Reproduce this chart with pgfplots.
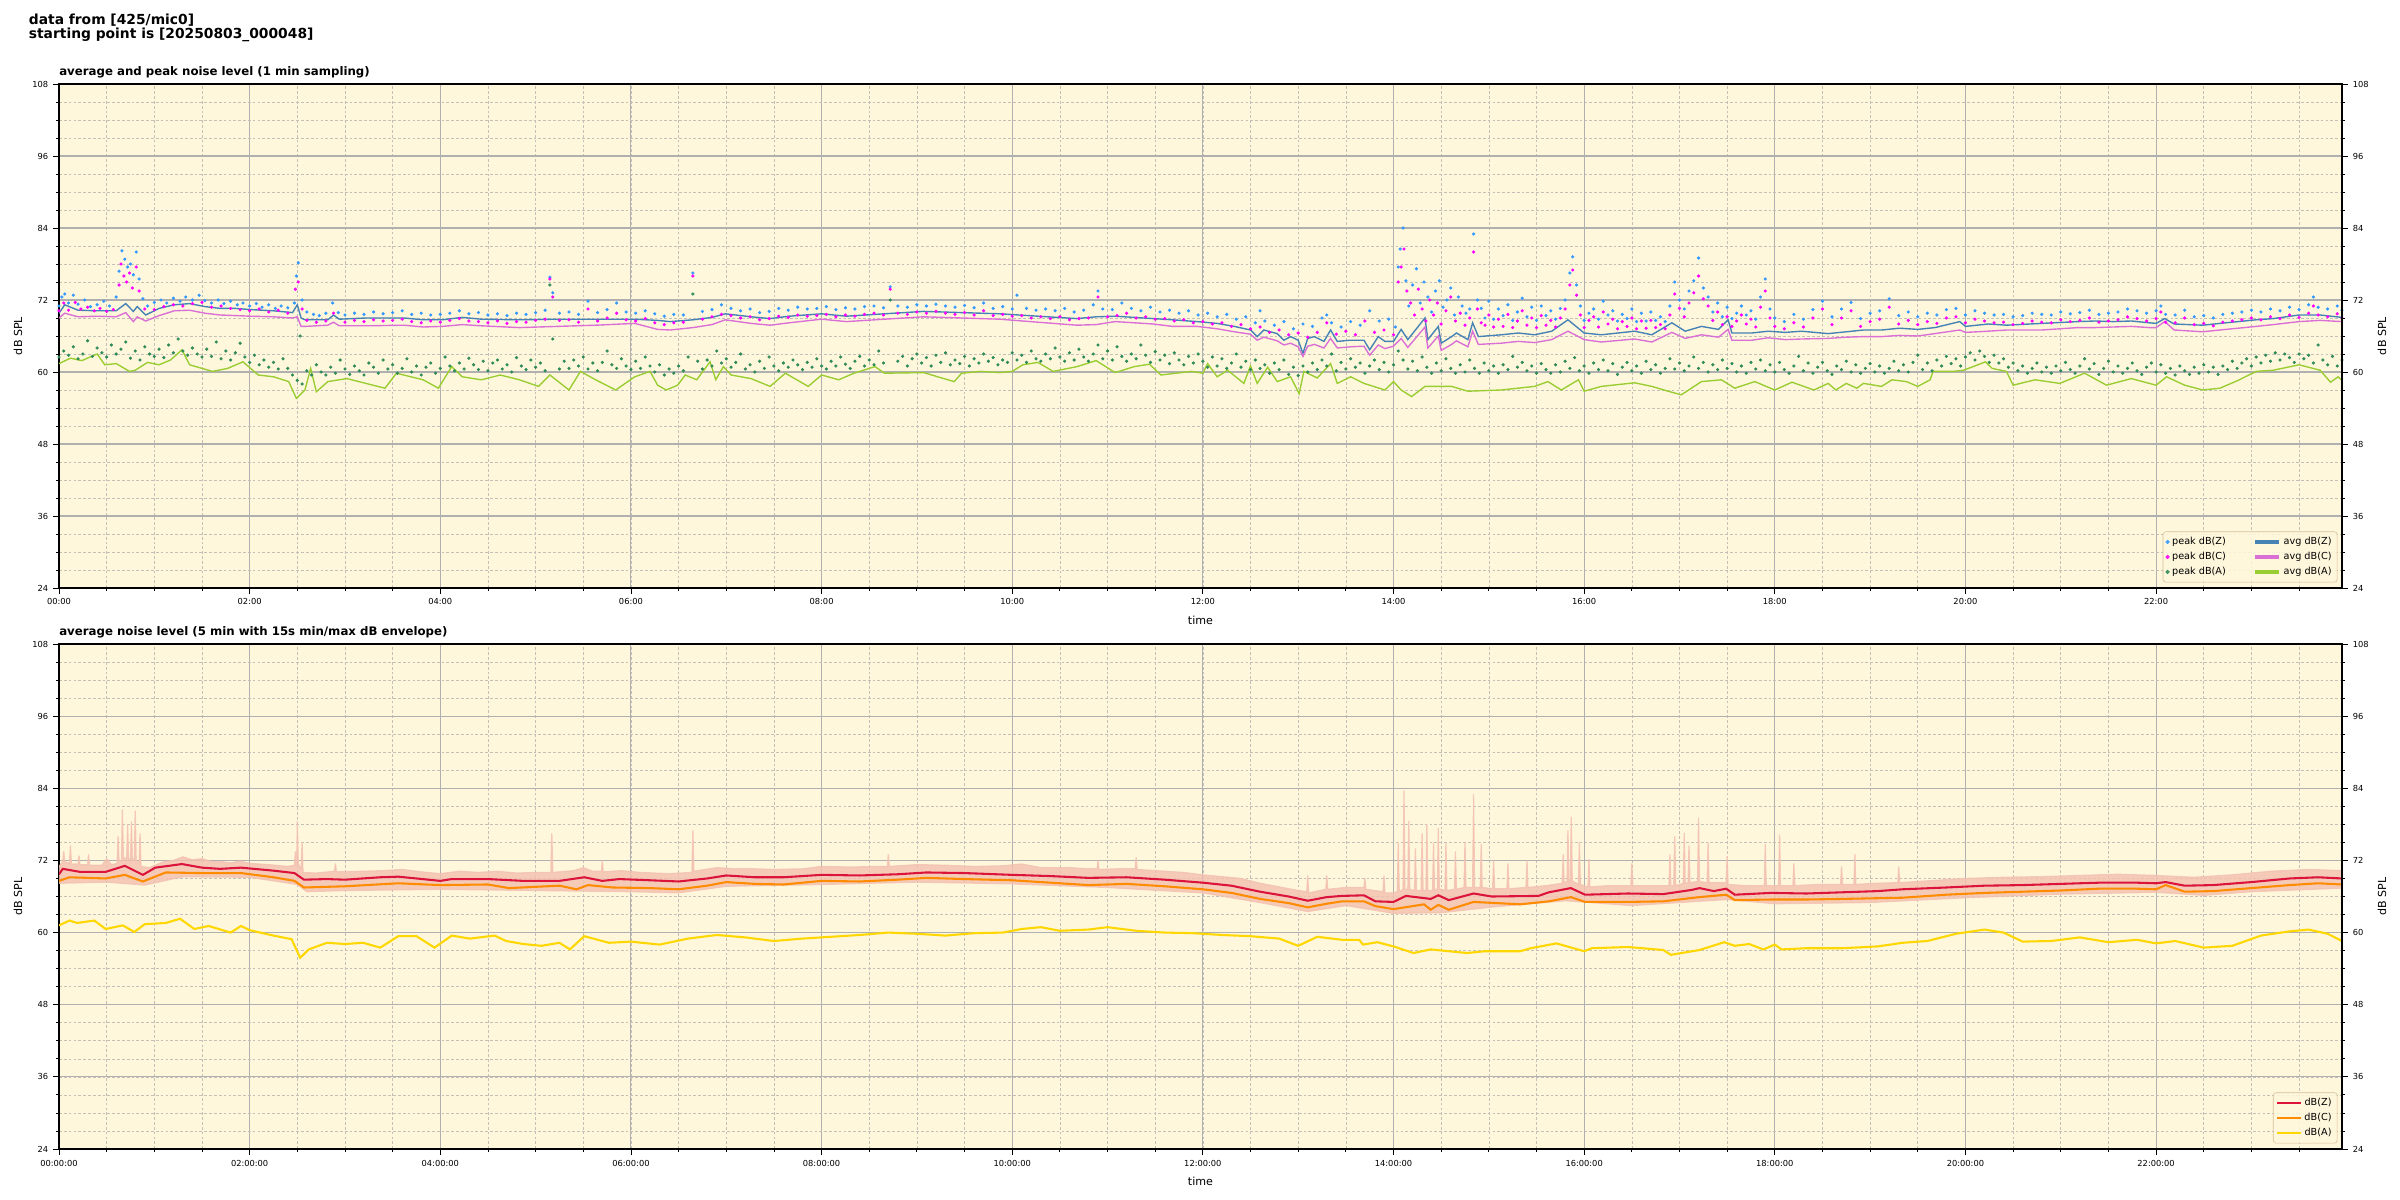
\documentclass[border=0pt]{standalone}
\usepackage{pgfplots}
\pgfplotsset{compat=1.18}
\usepackage{fontspec}
\setmainfont{DejaVu Sans}

\definecolor{bgc}{RGB}{255,247,220}
\definecolor{gridmaj}{RGB}{176,176,176}
\definecolor{gridmin}{RGB}{196,192,184}
\definecolor{legedge}{RGB}{214,190,150}
\definecolor{pkz}{RGB}{51,153,255}
\definecolor{pkc}{RGB}{255,0,255}
\definecolor{pka}{RGB}{46,139,87}
\definecolor{avz}{RGB}{70,130,180}
\definecolor{avc}{RGB}{218,112,214}
\definecolor{ava}{RGB}{154,205,50}
\definecolor{lz}{RGB}{220,20,60}
\definecolor{lc}{RGB}{255,140,0}
\definecolor{la}{RGB}{255,215,0}
\definecolor{envc}{RGB}{243,192,176}

\pgfplotsset{
  noisebase/.style={
    scale only axis, width=22.83in,
    xmin=0, xmax=23.95, ymin=24, ymax=108,
    xtick={0,2,...,22}, minor xtick={0,0.5,...,24},
    ytick={24,36,...,108}, minor ytick={24,27,...,108},
    tick align=outside, major tick length=4.3pt, minor tick length=2.2pt,
    every tick/.style={black, line width=0.6pt},
    axis line style={line width=1pt},
    tick label style={font=\fontsize{6}{7}\selectfont},
    /pgf/number format/assume math mode=true,
    label style={font=\fontsize{8}{9}\selectfont},
  },
  noisemain/.style={
    noisebase,
    xtick pos=left, ytick pos=left,
    grid=both,
    major grid style={draw=gridmaj, line width=0.8pt},
    minor grid style={draw=gridmin, line width=0.45pt, dash pattern=on 2pt off 1.5pt},
    axis background/.style={fill=bgc},
    ylabel={dB SPL}, xlabel={time},
    ylabel style={at={(rel axis cs:0,0.5)}, anchor=center, rotate=0, yshift=0.41in},
    xlabel style={at={(rel axis cs:0.5,0)}, anchor=center, yshift=-0.32in},
  },
  noiseright/.style={
    noisebase,
    axis x line=none, axis y line*=right,
    ylabel={dB SPL},
    ylabel style={at={(rel axis cs:1,0.5)}, anchor=center, yshift=-0.40in},
  },
  peak/.style={only marks, mark=*, mark size=0.95pt, #1, mark options={draw=none, fill=#1}},
}

\begin{document}
\begin{tikzpicture}
\path[use as bounding box] (0,0) rectangle (24in,-12in);
\node[anchor=base west, font=\fontsize{10}{12}\selectfont\bfseries] at (0.24in,-0.24in) {data from [425/mic0]};
\node[anchor=base west, font=\fontsize{10}{12}\selectfont\bfseries] at (0.24in,-0.383in) {starting point is [20250803\_000048]};
\node[anchor=base west, font=\fontsize{8.5}{10}\selectfont\bfseries, inner sep=0pt] at (0.59in,-0.75in) {average and peak noise level (1 min sampling)};
\node[anchor=base west, font=\fontsize{8.5}{10}\selectfont\bfseries, inner sep=0pt] at (0.59in,-6.35in) {average noise level (5 min with 15s min/max dB envelope)};

% ---------------- top: 1 min sampling ----------------
\begin{axis}[noisemain, at={(0.59in,-0.84in)}, anchor=north west, height=5.04in,
  xticklabels={00:00,02:00,04:00,06:00,08:00,10:00,12:00,14:00,16:00,18:00,20:00,22:00},
  legend columns=2,
  legend style={at={(rel axis cs:0.998,0.011)}, anchor=south east,
    font=\fontsize{7}{8}\selectfont, draw=legedge, fill=bgc, fill opacity=0.85,
    text opacity=1, rounded corners=2pt, inner sep=2pt,
    /tikz/every even column/.append style={column sep=0.25in}},
]
% peak dB(Z)
\addplot[peak=pkz, forget plot] coordinates {
(0.00,71.0)(0.03,72.5)(0.06,73.0)(0.10,71.5)(0.15,72.8)(0.20,71.3)(0.27,72.0)(0.33,70.9)(0.40,71.2)(0.47,71.8)(0.53,71.0)(0.60,72.5)(0.63,76.8)(0.66,80.2)(0.69,78.8)(0.72,77.5)(0.75,78.0)(0.78,76.2)(0.81,80.0)(0.84,75.5)(0.88,72.2)(0.93,71.0)(1.00,71.6)(1.07,72.0)(1.13,71.5)(1.20,72.3)(1.27,71.8)(1.33,72.5)(1.40,72.0)(1.47,72.8)(1.53,71.9)(1.60,71.5)(1.67,72.0)(1.73,71.4)(1.80,71.8)(1.87,71.2)(1.93,71.5)(2.00,71.0)(2.07,71.4)(2.13,70.8)(2.20,71.2)(2.27,70.6)(2.33,71.0)(2.40,70.7)(2.47,71.5)(2.49,76.0)(2.51,78.2)(2.55,72.0)(2.60,70.0)(2.67,69.6)(2.73,69.4)(2.80,69.8)(2.87,71.5)(2.93,69.9)(3.00,69.5)(3.10,69.8)(3.20,69.6)(3.30,70.0)(3.40,69.7)(3.50,69.9)(3.60,70.2)(3.70,69.6)(3.80,69.8)(3.90,69.5)(4.00,69.6)(4.10,69.8)(4.20,70.2)(4.30,69.7)(4.40,69.9)(4.50,69.5)(4.60,69.7)(4.70,69.4)(4.80,69.8)(4.90,69.6)(5.00,69.9)(5.10,70.3)(5.15,75.8)(5.18,73.2)(5.25,69.8)(5.35,70.0)(5.45,69.6)(5.55,71.8)(5.65,69.9)(5.75,70.4)(5.85,71.5)(5.95,70.0)(6.05,69.8)(6.15,70.2)(6.25,69.7)(6.35,69.3)(6.45,69.6)(6.55,69.5)(6.65,76.5)(6.75,70.1)(6.85,70.4)(6.95,71.2)(7.05,70.6)(7.15,70.2)(7.25,70.5)(7.35,69.9)(7.45,70.1)(7.55,70.6)(7.65,70.3)(7.75,70.8)(7.85,70.5)(7.95,70.6)(8.05,70.9)(8.15,70.4)(8.25,70.7)(8.35,70.5)(8.45,70.9)(8.55,71.0)(8.65,70.7)(8.72,74.2)(8.80,71.0)(8.90,70.8)(9.00,71.2)(9.10,71.0)(9.20,71.3)(9.30,71.0)(9.40,70.8)(9.50,71.1)(9.60,70.7)(9.70,71.5)(9.80,70.6)(9.90,70.9)(10.00,70.5)(10.05,72.8)(10.15,70.6)(10.25,70.3)(10.35,70.5)(10.45,70.2)(10.55,70.6)(10.65,70.0)(10.75,70.3)(10.85,71.2)(10.90,73.5)(10.95,70.5)(11.05,70.4)(11.15,71.5)(11.25,70.6)(11.35,70.2)(11.45,70.8)(11.55,70.0)(11.65,70.3)(11.75,69.8)(11.85,70.2)(11.95,69.5)(12.05,69.8)(12.15,69.2)(12.25,69.6)(12.35,68.8)(12.45,69.2)(12.55,68.2)(12.60,70.2)(12.65,68.5)(12.75,67.8)(12.85,68.4)(12.95,67.2)(13.05,68.0)(13.15,67.6)(13.25,69.0)(13.30,69.5)(13.35,68.2)(13.45,67.5)(13.55,68.4)(13.65,67.8)(13.75,70.2)(13.85,68.5)(13.95,68.8)(14.02,67.5)(14.05,77.5)(14.07,80.5)(14.10,84.0)(14.13,75.2)(14.16,71.0)(14.20,74.5)(14.24,77.2)(14.28,71.5)(14.32,75.0)(14.36,72.5)(14.40,70.0)(14.44,73.5)(14.48,75.2)(14.52,70.8)(14.56,72.0)(14.60,74.0)(14.64,69.5)(14.68,72.5)(14.72,71.0)(14.76,69.8)(14.80,70.5)(14.84,83.0)(14.88,72.0)(14.92,70.6)(14.96,69.0)(15.00,71.8)(15.05,68.8)(15.10,70.5)(15.15,69.4)(15.20,71.2)(15.25,68.6)(15.30,70.0)(15.35,72.3)(15.40,69.2)(15.45,70.8)(15.50,68.6)(15.55,71.0)(15.60,69.4)(15.65,70.2)(15.70,68.8)(15.75,70.6)(15.80,72.0)(15.85,76.5)(15.88,79.2)(15.92,74.5)(15.96,71.0)(16.00,68.6)(16.05,69.8)(16.10,70.5)(16.15,68.8)(16.20,71.8)(16.25,69.5)(16.30,70.2)(16.35,68.5)(16.40,69.6)(16.45,68.9)(16.50,70.5)(16.55,68.4)(16.60,69.8)(16.65,68.5)(16.70,70.0)(16.75,68.6)(16.80,69.2)(16.85,68.4)(16.90,71.0)(16.95,75.0)(17.00,72.0)(17.05,70.5)(17.10,73.5)(17.15,75.2)(17.20,79.0)(17.25,74.0)(17.30,72.5)(17.35,70.0)(17.40,71.5)(17.45,69.2)(17.50,70.8)(17.55,68.9)(17.60,69.8)(17.65,71.0)(17.70,69.5)(17.75,70.2)(17.80,68.8)(17.85,72.5)(17.90,75.5)(17.95,70.5)(18.00,69.0)(18.10,68.4)(18.20,69.6)(18.30,68.8)(18.40,70.4)(18.50,71.8)(18.60,69.2)(18.70,70.5)(18.80,71.6)(18.90,68.9)(19.00,69.8)(19.10,70.2)(19.20,72.2)(19.30,69.4)(19.40,70.0)(19.50,69.2)(19.60,69.8)(19.70,69.5)(19.80,70.4)(19.90,70.6)(20.00,69.5)(20.10,70.2)(20.20,69.8)(20.30,69.5)(20.40,69.6)(20.50,69.2)(20.60,69.4)(20.70,69.8)(20.80,69.6)(20.90,69.5)(21.00,70.0)(21.10,69.7)(21.20,69.9)(21.30,70.3)(21.40,69.6)(21.50,69.8)(21.60,70.0)(21.70,70.5)(21.80,70.2)(21.90,69.8)(22.00,70.2)(22.05,71.0)(22.10,69.6)(22.20,69.5)(22.30,70.3)(22.40,69.2)(22.50,69.4)(22.60,69.0)(22.70,69.6)(22.80,69.8)(22.90,70.0)(23.00,70.3)(23.10,70.0)(23.20,70.5)(23.30,70.2)(23.40,70.8)(23.50,70.4)(23.60,71.2)(23.65,72.5)(23.70,70.8)(23.80,70.5)(23.90,71.0)(23.95,70.3)
};
% peak dB(C)
\addplot[peak=pkc, forget plot] coordinates {
(0.00,70.2)(0.05,71.5)(0.10,70.3)(0.17,71.6)(0.23,70.5)(0.30,70.8)(0.37,70.2)(0.43,70.6)(0.50,70.1)(0.57,70.4)(0.63,74.5)(0.65,78.0)(0.68,76.0)(0.71,75.0)(0.74,76.5)(0.77,74.0)(0.81,77.5)(0.84,73.5)(0.90,70.5)(1.00,70.4)(1.10,70.9)(1.20,71.2)(1.30,71.0)(1.40,71.4)(1.50,71.6)(1.60,70.8)(1.70,71.0)(1.80,70.6)(1.90,70.4)(2.00,70.2)(2.10,70.5)(2.20,70.0)(2.30,70.3)(2.40,69.8)(2.48,73.8)(2.51,75.0)(2.55,70.5)(2.60,68.6)(2.70,68.3)(2.80,68.5)(2.88,69.8)(3.00,68.3)(3.10,68.6)(3.20,68.4)(3.30,68.7)(3.40,68.5)(3.50,68.6)(3.60,68.8)(3.70,68.4)(3.80,68.2)(3.90,68.5)(4.00,68.3)(4.10,68.6)(4.20,68.9)(4.30,68.5)(4.40,68.4)(4.50,68.2)(4.60,68.5)(4.70,68.1)(4.80,68.4)(4.90,68.3)(5.00,68.6)(5.10,68.8)(5.15,75.5)(5.18,72.5)(5.25,68.6)(5.35,68.7)(5.45,68.3)(5.55,70.5)(5.65,68.5)(5.75,69.0)(5.85,69.8)(5.95,68.7)(6.05,68.5)(6.15,68.9)(6.25,68.2)(6.35,67.9)(6.45,68.2)(6.55,68.3)(6.65,76.0)(6.75,68.8)(6.85,69.2)(6.95,69.6)(7.05,69.4)(7.15,69.0)(7.25,69.2)(7.35,68.7)(7.45,68.9)(7.55,69.3)(7.65,69.1)(7.75,69.5)(7.85,69.3)(7.95,69.4)(8.05,69.6)(8.15,69.2)(8.25,69.5)(8.35,69.3)(8.45,69.6)(8.55,69.8)(8.65,69.5)(8.72,73.8)(8.80,69.8)(8.90,69.6)(9.00,70.0)(9.10,69.8)(9.20,70.1)(9.30,69.8)(9.40,69.6)(9.50,69.9)(9.60,69.5)(9.70,70.2)(9.80,69.4)(9.90,69.6)(10.00,69.3)(10.10,69.4)(10.20,69.0)(10.30,69.2)(10.40,68.9)(10.50,69.2)(10.60,68.7)(10.70,68.9)(10.80,69.0)(10.90,72.5)(11.00,69.2)(11.10,69.4)(11.20,69.8)(11.30,69.0)(11.40,69.2)(11.50,68.8)(11.60,68.9)(11.70,68.5)(11.80,68.7)(11.90,68.2)(12.00,68.4)(12.10,68.0)(12.20,68.2)(12.30,67.6)(12.40,67.9)(12.50,67.2)(12.60,67.5)(12.70,66.6)(12.80,67.0)(12.90,66.2)(13.00,66.5)(13.10,65.8)(13.20,66.6)(13.30,68.2)(13.40,66.3)(13.50,66.8)(13.60,66.2)(13.70,68.5)(13.80,66.6)(13.90,67.0)(14.00,66.2)(14.05,75.0)(14.08,77.5)(14.11,80.5)(14.14,73.5)(14.18,71.5)(14.22,69.5)(14.26,73.8)(14.30,70.5)(14.34,68.5)(14.38,72.0)(14.42,69.5)(14.46,71.5)(14.50,68.0)(14.55,70.2)(14.60,72.5)(14.65,68.5)(14.70,69.8)(14.75,67.8)(14.80,69.0)(14.84,80.0)(14.88,70.5)(14.92,68.2)(14.96,67.8)(15.00,69.5)(15.05,67.5)(15.10,68.8)(15.15,67.6)(15.20,69.6)(15.25,67.4)(15.30,68.5)(15.35,70.2)(15.40,67.8)(15.45,69.0)(15.50,67.4)(15.55,69.4)(15.60,67.8)(15.65,68.6)(15.70,67.5)(15.75,69.0)(15.80,70.5)(15.85,74.5)(15.88,77.0)(15.92,72.8)(15.96,69.5)(16.00,67.4)(16.05,68.6)(16.10,69.2)(16.15,67.5)(16.20,70.0)(16.25,68.0)(16.30,68.8)(16.35,67.2)(16.40,68.4)(16.45,67.6)(16.50,69.0)(16.55,67.2)(16.60,68.5)(16.65,67.3)(16.70,68.6)(16.75,67.4)(16.80,67.9)(16.85,67.2)(16.90,69.5)(16.95,73.0)(17.00,70.6)(17.05,69.2)(17.10,71.5)(17.15,73.2)(17.20,76.0)(17.25,72.2)(17.30,71.0)(17.35,68.6)(17.40,70.0)(17.45,67.9)(17.50,69.2)(17.55,67.6)(17.60,68.5)(17.65,69.5)(17.70,68.0)(17.75,68.8)(17.80,67.5)(17.85,70.8)(17.90,73.5)(17.95,69.0)(18.00,67.6)(18.10,67.2)(18.20,68.2)(18.30,67.5)(18.40,69.0)(18.50,70.5)(18.60,67.9)(18.70,69.0)(18.80,70.2)(18.90,67.6)(19.00,68.4)(19.10,68.8)(19.20,70.8)(19.30,68.0)(19.40,68.6)(19.50,67.9)(19.60,68.4)(19.70,68.1)(19.80,69.0)(19.90,69.2)(20.00,68.2)(20.10,68.8)(20.20,68.5)(20.30,68.2)(20.40,68.3)(20.50,67.9)(20.60,68.1)(20.70,68.5)(20.80,68.3)(20.90,68.2)(21.00,68.7)(21.10,68.4)(21.20,68.6)(21.30,69.0)(21.40,68.3)(21.50,68.5)(21.60,68.7)(21.70,69.2)(21.80,68.9)(21.90,68.5)(22.00,68.9)(22.05,70.0)(22.10,68.3)(22.20,68.2)(22.30,69.0)(22.40,67.9)(22.50,68.1)(22.60,67.7)(22.70,68.3)(22.80,68.5)(22.90,68.7)(23.00,69.0)(23.10,68.7)(23.20,69.2)(23.30,68.9)(23.40,69.5)(23.50,69.1)(23.60,69.8)(23.65,71.0)(23.70,69.5)(23.80,69.2)(23.90,69.7)(23.95,69.0)
};
% peak dB(A)
\addplot[peak=pka, forget plot] coordinates {
(0.00,62.5)(0.05,63.5)(0.10,62.8)(0.15,64.2)(0.20,62.2)(0.25,63.0)(0.30,65.2)(0.35,62.6)(0.40,64.0)(0.45,63.2)(0.50,62.5)(0.55,64.5)(0.60,63.0)(0.65,63.8)(0.70,65.0)(0.75,62.3)(0.80,63.5)(0.85,62.0)(0.90,64.2)(0.95,63.0)(1.00,62.6)(1.05,63.8)(1.10,62.4)(1.15,64.5)(1.20,63.2)(1.25,65.5)(1.30,63.5)(1.35,62.8)(1.40,64.0)(1.45,63.0)(1.50,62.5)(1.55,63.8)(1.60,62.6)(1.65,65.0)(1.70,62.2)(1.75,63.5)(1.80,62.0)(1.85,63.2)(1.90,64.8)(1.95,62.5)(2.00,61.6)(2.05,62.8)(2.10,61.2)(2.15,62.0)(2.20,60.8)(2.25,61.6)(2.30,60.5)(2.35,62.2)(2.40,60.6)(2.45,59.5)(2.50,58.6)(2.53,66.0)(2.55,58.0)(2.60,60.2)(2.65,59.5)(2.70,61.2)(2.75,60.0)(2.80,59.5)(2.85,60.8)(2.90,59.8)(2.95,62.0)(3.00,60.5)(3.05,59.6)(3.10,61.0)(3.15,60.2)(3.20,59.5)(3.25,61.5)(3.30,60.8)(3.35,59.8)(3.40,62.0)(3.45,60.5)(3.50,61.2)(3.55,59.8)(3.60,60.6)(3.65,62.2)(3.70,60.0)(3.75,61.0)(3.80,59.5)(3.85,60.8)(3.90,61.5)(3.95,59.8)(4.00,60.6)(4.05,62.5)(4.10,61.0)(4.15,60.2)(4.20,61.5)(4.25,60.5)(4.30,62.3)(4.35,61.2)(4.40,60.4)(4.45,61.8)(4.50,60.2)(4.55,61.5)(4.60,62.0)(4.65,60.5)(4.70,61.2)(4.75,60.0)(4.80,62.4)(4.85,61.0)(4.90,60.4)(4.95,62.0)(5.00,60.8)(5.05,61.5)(5.10,60.2)(5.15,74.5)(5.18,65.5)(5.25,60.5)(5.30,61.8)(5.35,60.6)(5.40,62.0)(5.45,61.0)(5.50,62.5)(5.55,60.5)(5.60,61.5)(5.65,60.2)(5.70,61.6)(5.75,63.5)(5.80,61.2)(5.85,60.6)(5.90,62.2)(5.95,61.0)(6.00,60.4)(6.05,61.8)(6.10,60.6)(6.15,62.5)(6.20,61.0)(6.25,60.0)(6.30,61.2)(6.35,59.5)(6.40,60.5)(6.45,59.8)(6.50,61.0)(6.55,60.2)(6.60,62.5)(6.65,73.0)(6.70,61.8)(6.75,60.5)(6.80,62.0)(6.85,61.0)(6.90,63.5)(6.95,61.5)(7.00,62.2)(7.05,60.8)(7.10,61.6)(7.15,63.0)(7.20,60.5)(7.25,61.2)(7.30,60.0)(7.35,61.8)(7.40,60.6)(7.45,62.5)(7.50,61.0)(7.55,60.2)(7.60,61.5)(7.65,60.8)(7.70,62.0)(7.75,61.2)(7.80,60.4)(7.85,61.6)(7.90,60.8)(7.95,62.2)(8.00,61.0)(8.05,60.5)(8.10,61.8)(8.15,61.0)(8.20,62.5)(8.25,61.3)(8.30,60.6)(8.35,61.8)(8.40,62.6)(8.45,61.0)(8.50,62.0)(8.55,61.2)(8.60,63.5)(8.65,61.5)(8.72,72.0)(8.80,61.8)(8.85,62.6)(8.90,61.0)(8.95,62.2)(9.00,63.0)(9.05,61.5)(9.10,62.4)(9.15,61.0)(9.20,62.8)(9.25,61.6)(9.30,63.2)(9.35,61.2)(9.40,62.0)(9.45,61.4)(9.50,62.6)(9.55,61.0)(9.60,62.2)(9.65,61.5)(9.70,63.0)(9.75,61.8)(9.80,62.4)(9.85,61.2)(9.90,62.0)(9.95,61.6)(10.00,63.2)(10.05,62.0)(10.10,62.8)(10.15,61.6)(10.20,63.5)(10.25,62.2)(10.30,61.8)(10.35,63.0)(10.40,62.2)(10.45,64.0)(10.50,62.5)(10.55,61.8)(10.60,63.2)(10.65,62.0)(10.70,63.8)(10.75,62.5)(10.80,61.8)(10.85,63.0)(10.90,64.5)(10.95,62.2)(11.00,63.5)(11.05,62.0)(11.10,64.2)(11.15,62.6)(11.20,61.8)(11.25,63.0)(11.30,62.2)(11.35,64.5)(11.40,62.8)(11.45,61.6)(11.50,63.4)(11.55,62.0)(11.60,62.8)(11.65,61.4)(11.70,63.2)(11.75,62.0)(11.80,61.2)(11.85,62.6)(11.90,61.5)(11.95,63.0)(12.00,61.8)(12.05,60.8)(12.10,62.5)(12.15,61.0)(12.20,62.2)(12.25,60.6)(12.30,61.5)(12.35,63.0)(12.40,60.8)(12.45,61.8)(12.50,60.4)(12.55,62.0)(12.60,60.6)(12.65,61.2)(12.70,59.8)(12.75,61.5)(12.80,60.4)(12.85,62.0)(12.90,59.6)(12.95,60.8)(13.00,59.4)(13.05,61.0)(13.10,60.0)(13.15,61.5)(13.20,60.4)(13.25,62.0)(13.30,61.0)(13.35,63.0)(13.40,60.2)(13.45,61.6)(13.50,60.5)(13.55,62.2)(13.60,60.8)(13.65,61.5)(13.70,59.8)(13.75,61.0)(13.80,62.0)(13.85,60.4)(13.90,61.6)(13.95,60.0)(14.00,61.2)(14.05,63.5)(14.10,62.0)(14.15,60.5)(14.20,61.8)(14.25,60.2)(14.30,62.5)(14.35,60.8)(14.40,59.8)(14.45,61.5)(14.50,60.2)(14.55,62.2)(14.60,60.6)(14.65,59.8)(14.70,61.2)(14.75,60.0)(14.80,62.0)(14.85,60.6)(14.90,59.8)(14.95,61.5)(15.00,60.2)(15.05,61.0)(15.10,59.8)(15.15,61.2)(15.20,60.4)(15.25,62.6)(15.30,60.8)(15.35,61.6)(15.40,60.2)(15.45,61.0)(15.50,59.8)(15.55,61.4)(15.60,60.4)(15.65,59.8)(15.70,61.2)(15.75,60.0)(15.80,61.8)(15.85,60.6)(15.90,62.4)(15.95,60.2)(16.00,61.0)(16.05,59.8)(16.10,61.5)(16.15,60.4)(16.20,62.0)(16.25,60.2)(16.30,61.4)(16.35,59.6)(16.40,60.8)(16.45,61.6)(16.50,60.2)(16.55,61.0)(16.60,59.8)(16.65,61.8)(16.70,60.4)(16.75,61.2)(16.80,59.8)(16.85,60.6)(16.90,62.2)(16.95,60.5)(17.00,61.5)(17.05,60.2)(17.10,61.0)(17.15,62.5)(17.20,60.6)(17.25,61.6)(17.30,60.0)(17.35,61.2)(17.40,60.4)(17.45,62.0)(17.50,60.6)(17.55,61.4)(17.60,60.0)(17.65,61.0)(17.70,59.8)(17.75,61.6)(17.80,60.5)(17.85,62.0)(17.90,60.2)(17.95,61.2)(18.00,60.0)(18.05,61.6)(18.10,60.4)(18.15,59.8)(18.20,61.0)(18.25,62.6)(18.30,60.2)(18.35,61.5)(18.40,59.8)(18.45,60.8)(18.50,61.6)(18.55,60.2)(18.60,59.6)(18.65,61.0)(18.70,60.4)(18.75,61.8)(18.80,60.0)(18.85,61.2)(18.90,59.8)(18.95,60.6)(19.00,61.4)(19.05,60.0)(19.10,61.0)(19.15,59.8)(19.20,60.6)(19.25,61.8)(19.30,60.2)(19.35,61.2)(19.40,60.0)(19.45,61.6)(19.50,62.8)(19.55,60.4)(19.60,61.5)(19.65,60.2)(19.70,62.0)(19.75,61.0)(19.80,62.6)(19.85,61.4)(19.90,62.2)(19.95,61.0)(20.00,62.5)(20.05,63.2)(20.10,62.0)(20.15,63.5)(20.20,62.6)(20.25,61.6)(20.30,62.8)(20.35,61.5)(20.40,62.2)(20.45,60.8)(20.50,61.5)(20.55,60.2)(20.60,61.0)(20.65,59.8)(20.70,60.6)(20.75,61.5)(20.80,60.0)(20.85,60.8)(20.90,59.8)(20.95,61.0)(21.00,60.2)(21.05,61.6)(21.10,60.4)(21.15,59.8)(21.20,61.0)(21.25,62.2)(21.30,60.5)(21.35,61.4)(21.40,59.6)(21.45,60.6)(21.50,61.8)(21.55,60.0)(21.60,61.0)(21.65,59.8)(21.70,60.6)(21.75,61.5)(21.80,60.2)(21.85,59.6)(21.90,60.8)(21.95,61.5)(22.00,60.0)(22.05,61.2)(22.10,59.8)(22.15,60.6)(22.20,59.5)(22.25,61.0)(22.30,60.2)(22.35,59.6)(22.40,60.8)(22.45,59.8)(22.50,61.2)(22.55,60.0)(22.60,60.8)(22.65,59.6)(22.70,61.0)(22.75,60.4)(22.80,61.8)(22.85,60.6)(22.90,61.5)(22.95,62.2)(23.00,61.0)(23.05,62.5)(23.10,61.5)(23.15,62.8)(23.20,61.8)(23.25,63.2)(23.30,62.0)(23.35,63.0)(23.40,62.4)(23.45,61.6)(23.50,63.0)(23.55,62.2)(23.60,62.8)(23.65,61.5)(23.70,64.5)(23.75,62.0)(23.80,61.2)(23.85,62.6)(23.90,61.0)(23.95,62.0)
};
% avg dB(Z)
\addplot[avz, line width=1pt, forget plot] coordinates {
(0.00,69.8)(0.06,71.2)(0.20,70.3)(0.40,70.2)(0.60,70.2)(0.70,71.4)(0.78,70.1)(0.82,70.9)(0.91,69.5)(1.05,70.6)(1.21,71.2)(1.37,71.4)(1.53,70.9)(1.69,70.6)(1.85,70.6)(2.01,70.4)(2.25,70.2)(2.45,69.9)(2.50,71.2)(2.54,69.0)(2.58,68.7)(2.82,68.7)(2.88,69.5)(2.94,68.8)(3.22,69.0)(3.62,69.0)(3.82,68.7)(4.02,68.7)(4.23,69.1)(4.43,68.8)(4.83,68.7)(5.23,68.8)(5.63,68.8)(6.04,68.8)(6.28,68.6)(6.41,68.4)(6.65,68.7)(6.85,69.1)(6.99,69.7)(7.26,69.2)(7.46,68.9)(7.66,69.3)(8.00,69.7)(8.26,69.3)(8.66,69.7)(9.07,70.1)(9.47,69.9)(9.87,69.7)(10.27,69.3)(10.68,68.9)(10.88,69.2)(11.08,69.3)(11.48,68.9)(11.68,68.7)(11.94,68.4)(12.15,68.1)(12.33,67.6)(12.50,67.0)(12.57,65.9)(12.64,67.0)(12.78,66.4)(12.85,65.3)(12.92,65.9)(13.00,65.3)(13.05,63.1)(13.10,65.6)(13.17,65.9)(13.27,65.1)(13.34,67.0)(13.41,65.1)(13.55,65.3)(13.69,65.3)(13.75,63.7)(13.84,65.9)(13.91,65.1)(14.00,65.1)(14.08,67.1)(14.15,65.4)(14.33,69.0)(14.36,65.4)(14.47,67.6)(14.50,64.8)(14.61,65.9)(14.66,66.5)(14.78,65.4)(14.83,68.2)(14.89,65.9)(15.13,66.2)(15.31,66.5)(15.48,66.2)(15.66,66.8)(15.83,68.7)(16.00,66.5)(16.18,66.2)(16.53,66.8)(16.71,66.2)(16.92,68.2)(17.06,66.8)(17.23,67.6)(17.41,67.1)(17.51,68.7)(17.55,66.5)(17.76,66.5)(17.93,66.8)(18.11,66.6)(18.28,66.8)(18.56,66.4)(18.75,66.7)(18.93,67.0)(19.12,67.0)(19.31,67.3)(19.50,67.1)(19.68,67.4)(19.94,68.4)(20.00,67.6)(20.24,68.0)(20.43,67.8)(20.80,68.1)(21.18,68.4)(21.36,68.5)(21.55,68.4)(21.74,68.5)(21.93,68.2)(22.00,68.1)(22.09,68.9)(22.19,68.0)(22.49,67.8)(22.67,68.1)(23.05,68.7)(23.23,68.9)(23.50,69.5)(23.72,69.5)(23.95,69.1)
};
% avg dB(C)
\addplot[avc, line width=1pt, forget plot] coordinates {
(0.00,69.0)(0.06,69.8)(0.20,69.2)(0.40,69.3)(0.60,69.2)(0.70,69.9)(0.78,68.4)(0.82,69.2)(0.91,68.5)(1.05,69.4)(1.21,70.2)(1.37,70.3)(1.53,69.8)(1.69,69.5)(1.85,69.4)(2.01,69.3)(2.25,69.2)(2.45,69.0)(2.50,69.2)(2.54,67.6)(2.58,67.6)(2.82,67.8)(2.88,68.3)(2.94,67.7)(3.22,67.7)(3.62,67.8)(3.82,67.5)(4.02,67.6)(4.23,67.9)(4.43,67.7)(4.83,67.4)(5.23,67.6)(5.63,67.8)(6.04,68.1)(6.28,67.1)(6.41,67.0)(6.65,67.4)(6.85,67.9)(6.99,68.7)(7.26,68.1)(7.46,67.8)(7.66,68.2)(8.00,68.8)(8.26,68.4)(8.66,68.8)(9.07,69.2)(9.47,69.0)(9.87,68.8)(10.27,68.3)(10.68,67.8)(10.88,67.9)(11.08,68.4)(11.48,68.0)(11.68,67.6)(11.94,67.6)(12.15,67.2)(12.33,66.7)(12.50,66.3)(12.57,65.3)(12.64,65.8)(12.78,65.2)(12.85,64.5)(12.92,64.8)(13.00,64.2)(13.05,62.6)(13.10,64.3)(13.17,64.6)(13.27,64.0)(13.34,65.6)(13.41,64.0)(13.55,64.2)(13.69,64.3)(13.75,62.8)(13.84,64.5)(13.91,63.9)(14.00,64.3)(14.08,65.6)(14.15,64.1)(14.33,67.5)(14.36,64.0)(14.47,66.0)(14.50,63.6)(14.61,64.6)(14.66,65.2)(14.78,64.2)(14.83,66.8)(14.89,64.6)(15.13,64.8)(15.31,65.1)(15.48,64.9)(15.66,65.4)(15.83,66.8)(16.00,65.4)(16.18,65.0)(16.53,65.5)(16.71,65.0)(16.92,66.6)(17.06,65.6)(17.23,66.2)(17.41,65.8)(17.51,67.1)(17.55,65.3)(17.76,65.3)(17.93,65.7)(18.11,65.4)(18.28,65.5)(18.56,65.6)(18.75,65.8)(18.93,65.9)(19.12,65.9)(19.31,66.1)(19.50,66.0)(19.68,66.4)(19.94,67.0)(20.00,66.6)(20.24,66.8)(20.43,67.0)(20.80,67.0)(21.18,67.4)(21.36,67.4)(21.55,67.5)(21.74,67.6)(21.93,67.4)(22.00,67.4)(22.09,68.4)(22.19,67.0)(22.49,66.7)(22.67,67.0)(23.05,67.6)(23.23,67.9)(23.50,68.4)(23.72,68.6)(23.95,68.4)
};
% avg dB(A)
\addplot[ava, line width=1pt, forget plot] coordinates {
(0.00,61.4)(0.12,62.3)(0.24,61.9)(0.40,63.0)(0.48,61.2)(0.60,61.4)(0.74,60.1)(0.80,60.3)(0.93,61.6)(1.05,61.2)(1.17,62.0)(1.29,63.7)(1.37,61.2)(1.61,60.1)(1.77,60.6)(1.93,61.7)(2.09,59.5)(2.25,59.2)(2.41,58.4)(2.49,55.6)(2.58,57.0)(2.64,60.6)(2.70,56.7)(2.82,58.4)(3.02,58.9)(3.22,58.1)(3.42,57.3)(3.54,59.8)(3.82,58.7)(3.98,57.3)(4.12,60.9)(4.23,59.2)(4.43,58.7)(4.63,59.5)(4.83,58.7)(5.03,57.6)(5.15,59.5)(5.35,57.0)(5.47,60.1)(5.63,58.7)(5.84,57.0)(6.04,59.2)(6.20,60.1)(6.28,57.8)(6.37,57.0)(6.49,57.8)(6.57,59.5)(6.69,58.7)(6.83,61.7)(6.89,58.7)(6.97,60.9)(7.05,59.5)(7.26,58.9)(7.46,57.6)(7.62,59.8)(7.86,57.6)(8.00,59.5)(8.18,58.7)(8.34,59.8)(8.56,60.9)(8.66,59.8)(9.07,59.9)(9.39,58.4)(9.47,59.8)(9.67,60.1)(9.87,59.9)(10.00,60.1)(10.11,61.2)(10.27,61.6)(10.43,60.1)(10.68,60.9)(10.88,61.9)(11.08,59.9)(11.28,60.9)(11.44,61.3)(11.56,59.5)(11.88,60.1)(12.00,59.8)(12.05,61.4)(12.15,59.2)(12.26,60.3)(12.43,58.1)(12.50,61.0)(12.57,58.1)(12.68,60.8)(12.78,58.4)(12.92,59.2)(13.01,56.4)(13.06,60.1)(13.20,59.0)(13.34,61.4)(13.41,58.1)(13.55,59.2)(13.69,58.1)(13.91,57.0)(14.00,58.4)(14.08,57.0)(14.19,55.9)(14.33,57.6)(14.61,57.6)(14.78,56.8)(15.13,57.0)(15.48,57.6)(15.62,58.4)(15.76,57.0)(15.94,58.7)(16.00,56.8)(16.18,57.6)(16.53,58.2)(16.71,57.6)(16.88,56.8)(17.02,56.2)(17.23,58.4)(17.44,58.7)(17.58,57.3)(17.79,58.4)(18.00,57.0)(18.18,58.3)(18.41,57.0)(18.56,58.1)(18.64,57.0)(18.75,58.1)(18.86,57.3)(18.93,58.1)(19.12,57.6)(19.23,58.7)(19.38,58.4)(19.50,57.6)(19.63,58.7)(19.66,60.1)(19.87,60.1)(19.98,60.3)(20.13,61.2)(20.21,61.7)(20.28,60.6)(20.43,60.1)(20.50,57.8)(20.73,58.7)(20.99,58.1)(21.25,59.8)(21.48,57.8)(21.74,58.9)(22.00,57.8)(22.11,59.2)(22.30,57.8)(22.49,57.0)(22.67,57.3)(22.86,58.6)(23.05,60.1)(23.23,60.3)(23.50,61.2)(23.72,60.3)(23.83,58.3)(23.91,59.2)(23.95,58.6)
};
\addlegendimage{only marks, mark=*, mark size=1.3pt, pkz}
\addlegendentry{peak dB(Z)}
\addlegendimage{avz, line width=2.5pt}
\addlegendentry{avg dB(Z)}
\addlegendimage{only marks, mark=*, mark size=1.3pt, pkc}
\addlegendentry{peak dB(C)}
\addlegendimage{avc, line width=2.5pt}
\addlegendentry{avg dB(C)}
\addlegendimage{only marks, mark=*, mark size=1.3pt, pka}
\addlegendentry{peak dB(A)}
\addlegendimage{ava, line width=2.5pt}
\addlegendentry{avg dB(A)}
\end{axis}
\begin{axis}[noiseright, at={(0.59in,-0.84in)}, anchor=north west, height=5.04in]
\addplot[draw=none] coordinates {(0,24)};
\end{axis}

% ---------------- bottom: 5 min average ----------------
\begin{axis}[noisemain, at={(0.59in,-6.44in)}, anchor=north west, height=5.05in,
  xticklabels={00:00:00,02:00:00,04:00:00,06:00:00,08:00:00,10:00:00,12:00:00,14:00:00,16:00:00,18:00:00,20:00:00,22:00:00},
  legend style={at={(rel axis cs:0.998,0.011)}, anchor=south east,
    font=\fontsize{7}{8}\selectfont, draw=legedge, fill=bgc, fill opacity=0.85,
    text opacity=1, rounded corners=2pt, inner sep=2pt},
]
% 15 s min/max envelope: upper edge forward, lower edge back
\addplot[fill=envc, draw=envc, line width=0.9pt, line join=bevel, opacity=0.8, forget plot] coordinates {
(0.00,71.0)(0.04,71.8)(0.05,73.5)(0.06,71.8)(0.11,71.5)(0.12,74.5)(0.13,71.4)(0.20,71.4)(0.21,72.8)(0.22,71.3)(0.30,71.3)(0.31,73.0)(0.32,71.2)(0.45,71.2)(0.50,72.3)(0.55,71.3)(0.61,71.5)(0.62,76.0)(0.63,71.8)(0.655,72.0)(0.665,80.5)(0.675,72.5)(0.71,72.3)(0.72,78.0)(0.73,72.3)(0.75,72.2)(0.76,78.5)(0.77,72.3)(0.79,72.0)(0.80,80.3)(0.81,72.0)(0.84,71.5)(0.85,76.5)(0.86,71.0)(0.95,70.8)(1.10,71.8)(1.20,72.0)(1.30,72.6)(1.40,72.1)(1.50,72.3)(1.60,71.8)(1.70,71.8)(1.80,71.6)(1.90,71.9)(2.00,71.5)(2.20,71.3)(2.40,71.0)(2.47,71.2)(2.48,73.5)(2.49,71.2)(2.495,71.5)(2.50,78.5)(2.51,71.5)(2.54,70.5)(2.55,75.0)(2.56,70.0)(2.70,69.9)(2.89,70.2)(2.90,71.5)(2.91,70.1)(3.20,70.2)(3.40,70.3)(3.60,70.5)(3.80,70.1)(4.00,69.8)(4.20,70.2)(4.40,70.0)(4.60,70.2)(4.80,69.9)(5.00,70.0)(5.16,70.0)(5.17,76.5)(5.18,70.0)(5.40,70.3)(5.50,70.8)(5.60,70.2)(5.69,70.2)(5.70,72.0)(5.71,70.1)(5.90,70.3)(6.10,70.0)(6.40,69.8)(6.64,70.0)(6.65,77.0)(6.66,70.2)(6.90,70.8)(7.10,70.6)(7.30,70.6)(7.50,70.5)(7.80,70.6)(8.00,71.0)(8.30,70.9)(8.60,71.0)(8.69,71.0)(8.70,73.0)(8.71,71.0)(9.00,71.3)(9.30,71.2)(9.60,71.0)(9.90,71.1)(10.10,71.4)(10.30,70.8)(10.60,70.8)(10.80,70.6)(10.89,70.6)(10.90,72.0)(10.91,70.5)(11.10,70.6)(11.29,70.6)(11.30,72.5)(11.31,70.5)(11.60,70.2)(11.80,70.0)(12.00,69.6)(12.20,69.3)(12.40,69.0)(12.60,68.2)(12.80,67.6)(13.00,67.0)(13.09,66.8)(13.10,69.5)(13.11,66.6)(13.29,67.2)(13.30,69.5)(13.31,67.2)(13.50,67.5)(13.69,67.5)(13.70,69.0)(13.71,67.2)(13.89,66.8)(13.90,69.5)(13.91,66.6)(14.00,66.6)(14.04,66.8)(14.05,75.0)(14.06,66.8)(14.10,67.2)(14.11,83.6)(14.12,67.2)(14.15,67.2)(14.16,78.6)(14.17,67.2)(14.22,67.0)(14.23,74.0)(14.24,67.0)(14.29,67.0)(14.30,76.5)(14.31,67.0)(14.34,67.0)(14.35,78.0)(14.36,67.0)(14.41,67.0)(14.42,75.0)(14.43,67.0)(14.46,67.3)(14.47,77.4)(14.48,67.3)(14.54,67.0)(14.55,74.9)(14.56,67.0)(14.64,67.2)(14.65,73.5)(14.66,67.2)(14.74,67.5)(14.75,75.0)(14.76,67.5)(14.83,67.5)(14.84,83.0)(14.85,67.5)(14.91,67.5)(14.92,74.7)(14.93,67.5)(15.04,67.3)(15.05,72.0)(15.06,67.3)(15.19,67.3)(15.20,71.5)(15.21,67.3)(15.39,67.5)(15.40,72.0)(15.41,67.5)(15.60,67.8)(15.77,68.2)(15.78,73.0)(15.79,68.3)(15.82,68.5)(15.83,77.0)(15.84,68.5)(15.855,68.6)(15.865,79.3)(15.875,68.6)(15.94,68.0)(15.95,75.0)(15.96,68.0)(16.04,67.6)(16.05,72.2)(16.06,67.6)(16.25,67.8)(16.49,67.8)(16.50,71.5)(16.51,67.8)(16.70,67.8)(16.89,67.8)(16.90,73.0)(16.91,67.8)(16.94,67.8)(16.95,76.0)(16.96,67.8)(17.04,68.2)(17.05,76.6)(17.06,68.2)(17.09,68.3)(17.10,74.5)(17.11,68.3)(17.19,68.5)(17.20,79.1)(17.21,68.5)(17.29,68.3)(17.30,75.0)(17.31,68.3)(17.49,68.3)(17.50,72.7)(17.51,68.0)(17.70,67.8)(17.89,67.8)(17.90,74.7)(17.91,67.8)(18.04,67.8)(18.05,76.3)(18.06,67.8)(18.19,67.8)(18.20,71.5)(18.21,67.8)(18.45,68.0)(18.69,68.0)(18.70,71.0)(18.71,68.0)(18.83,68.0)(18.84,73.0)(18.85,68.0)(19.05,68.2)(19.29,68.3)(19.30,71.0)(19.31,68.3)(19.60,68.6)(20.00,69.0)(20.40,69.2)(20.80,69.3)(21.20,69.5)(21.60,69.7)(22.00,69.5)(22.40,69.2)(22.80,69.6)(23.20,70.2)(23.60,70.5)(23.95,70.3)
(23.95,67.4)(23.00,66.8)(22.50,66.2)(22.00,66.7)(21.00,66.4)(20.00,65.8)(19.00,65.0)(18.00,64.8)(17.50,65.5)(16.50,64.5)(15.80,65.3)(15.00,64.2)(14.50,63.3)(14.00,63.2)(13.50,64.5)(13.10,63.5)(12.60,65.0)(12.00,66.6)(11.00,67.5)(10.00,68.1)(9.00,68.4)(8.00,68.0)(7.00,67.7)(6.50,66.6)(6.00,66.8)(5.00,67.0)(4.00,67.2)(3.00,67.0)(2.60,66.8)(2.50,68.0)(2.00,69.2)(1.30,69.3)(0.90,67.9)(0.50,68.4)(0.00,68.2)
};
% dB(Z)
\addplot[lz, line width=1.5pt] coordinates {
(0.00,69.7)(0.04,70.6)(0.22,70.1)(0.49,70.1)(0.69,71.1)(0.88,69.6)(1.01,70.8)(1.29,71.4)(1.50,70.8)(1.69,70.6)(1.91,70.8)(2.25,70.3)(2.47,69.9)(2.57,68.8)(2.81,68.9)(3.00,68.8)(3.37,69.2)(3.56,69.3)(3.75,69.0)(4.00,68.6)(4.12,68.9)(4.50,68.9)(4.87,68.6)(5.25,68.6)(5.51,69.2)(5.70,68.6)(5.88,68.9)(6.20,68.7)(6.50,68.5)(6.80,69.0)(7.00,69.5)(7.30,69.2)(7.60,69.2)(8.00,69.6)(8.40,69.5)(8.80,69.7)(9.10,70.0)(9.50,69.9)(10.00,69.6)(10.40,69.4)(10.80,69.1)(11.20,69.2)(11.60,68.8)(12.00,68.3)(12.30,67.8)(12.60,66.8)(12.90,66.0)(13.10,65.3)(13.30,65.9)(13.46,66.1)(13.69,66.2)(13.81,65.2)(14.00,65.1)(14.13,66.1)(14.39,65.6)(14.47,66.2)(14.58,65.4)(14.84,66.5)(15.03,66.0)(15.52,66.1)(15.63,66.7)(15.86,67.4)(16.01,66.3)(16.46,66.5)(16.83,66.4)(17.13,67.1)(17.21,67.4)(17.36,66.9)(17.49,67.3)(17.58,66.3)(17.96,66.6)(18.33,66.5)(18.71,66.7)(19.08,66.9)(19.34,67.2)(19.80,67.5)(20.20,67.8)(20.60,67.9)(21.00,68.1)(21.40,68.3)(21.80,68.3)(22.00,68.2)(22.10,68.4)(22.30,67.8)(22.60,67.9)(23.00,68.4)(23.40,69.0)(23.70,69.2)(23.95,69.0)
};
\addlegendentry{dB(Z)}
% dB(C)
\addplot[lc, line width=1.5pt] coordinates {
(0.00,68.6)(0.11,69.2)(0.49,69.0)(0.69,69.6)(0.88,68.5)(1.12,70.0)(1.50,69.9)(1.91,69.9)(2.25,69.2)(2.47,68.6)(2.57,67.5)(3.00,67.7)(3.56,68.2)(4.00,67.9)(4.50,68.0)(4.72,67.4)(5.25,67.8)(5.43,67.2)(5.55,67.9)(5.81,67.5)(6.20,67.4)(6.50,67.2)(6.80,67.8)(7.00,68.4)(7.30,68.1)(7.60,68.0)(8.00,68.6)(8.40,68.5)(8.80,68.8)(9.10,69.1)(9.50,68.9)(10.00,68.7)(10.40,68.3)(10.80,67.9)(11.20,68.1)(11.60,67.7)(12.00,67.2)(12.30,66.6)(12.60,65.6)(12.90,64.9)(13.10,64.2)(13.30,64.8)(13.46,65.2)(13.69,65.2)(13.81,64.4)(14.00,63.9)(14.32,64.7)(14.39,63.8)(14.47,64.6)(14.58,63.8)(14.84,65.1)(15.33,64.7)(15.63,65.2)(15.86,65.9)(16.01,65.1)(16.46,65.1)(16.83,65.2)(17.21,65.9)(17.49,66.3)(17.58,65.4)(17.96,65.5)(18.33,65.5)(18.71,65.6)(19.34,65.8)(19.80,66.3)(20.20,66.6)(20.60,66.8)(21.00,67.0)(21.40,67.3)(21.80,67.3)(22.00,67.2)(22.10,67.9)(22.30,66.8)(22.60,66.9)(23.00,67.4)(23.40,67.9)(23.70,68.2)(23.95,68.0)
};
\addlegendentry{dB(C)}
% dB(A)
\addplot[la, line width=1.5pt] coordinates {
(0.00,61.2)(0.11,62.0)(0.19,61.6)(0.37,62.0)(0.49,60.6)(0.67,61.2)(0.79,60.1)(0.90,61.4)(1.12,61.6)(1.27,62.3)(1.42,60.6)(1.57,61.1)(1.80,60.0)(1.91,61.1)(2.00,60.4)(2.25,59.5)(2.44,58.9)(2.53,55.8)(2.62,57.2)(2.81,58.3)(3.00,58.1)(3.19,58.3)(3.37,57.5)(3.56,59.4)(3.75,59.4)(3.94,57.5)(4.12,59.5)(4.31,59.0)(4.57,59.5)(4.69,58.6)(4.87,58.1)(5.06,57.8)(5.25,58.3)(5.36,57.2)(5.51,59.4)(5.77,58.3)(6.00,58.5)(6.30,58.0)(6.60,59.0)(6.90,59.6)(7.20,59.2)(7.50,58.6)(7.80,59.0)(8.10,59.3)(8.40,59.6)(8.70,60.0)(9.00,59.8)(9.30,59.5)(9.60,59.9)(9.90,60.0)(10.10,60.6)(10.30,60.9)(10.50,60.3)(10.80,60.5)(11.00,60.9)(11.30,60.3)(11.60,60.0)(11.90,59.9)(12.20,59.6)(12.50,59.4)(12.80,59.0)(13.00,57.8)(13.20,59.3)(13.46,58.8)(13.64,58.8)(13.68,58.0)(13.83,58.4)(14.00,57.7)(14.21,56.6)(14.39,57.2)(14.58,56.9)(14.77,56.6)(14.96,56.9)(15.33,56.9)(15.44,57.4)(15.71,58.2)(16.00,56.9)(16.08,57.4)(16.46,57.6)(16.83,57.1)(16.91,56.3)(17.21,57.1)(17.47,58.4)(17.58,57.8)(17.73,58.1)(17.88,57.2)(18.00,58.0)(18.07,57.2)(18.33,57.4)(18.71,57.4)(19.08,57.7)(19.34,58.3)(19.60,58.6)(19.90,59.8)(20.20,60.5)(20.40,60.0)(20.60,58.5)(20.90,58.6)(21.20,59.2)(21.50,58.4)(21.80,58.8)(22.00,58.2)(22.20,58.6)(22.50,57.5)(22.80,57.8)(23.10,59.5)(23.40,60.2)(23.60,60.5)(23.80,59.8)(23.95,58.6)
};
\addlegendentry{dB(A)}
\end{axis}
\begin{axis}[noiseright, at={(0.59in,-6.44in)}, anchor=north west, height=5.05in]
\addplot[draw=none] coordinates {(0,24)};
\end{axis}
\end{tikzpicture}
\end{document}
